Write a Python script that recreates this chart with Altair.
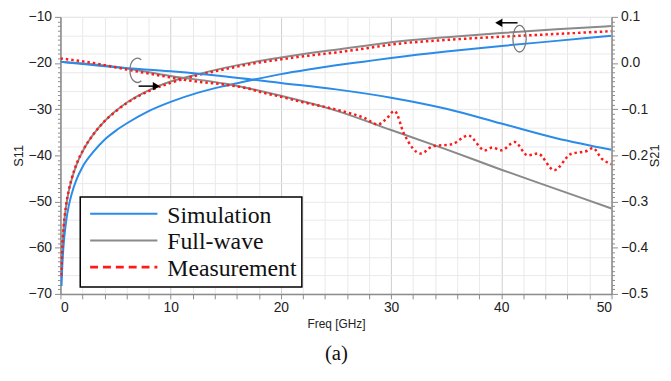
import altair as alt
import pandas as pd

# ---------------- data ----------------
# S11 (left axis, dB)
freq_sim_s11 = [0.1, 0.15, 0.25, 0.5, 0.75, 1, 1.5, 2, 3, 4, 5, 6, 8, 10, 12.5, 15, 17.5, 20, 22.5, 25, 27.5, 30, 35, 40, 45, 50]
sim_s11 = [-68.3, -65.0, -60.6, -54.6, -51.0, -48.5, -45.0, -42.5, -39.2, -36.6, -34.7, -33.1, -30.4, -28.4, -26.4, -24.9, -23.6, -22.4, -21.4, -20.5, -19.7, -18.9, -17.5, -16.3, -15.2, -14.1]

freq_fw_s11 = [0.08, 0.15, 0.3, 0.5, 0.75, 1, 1.5, 2, 3, 4, 5, 6, 8, 10, 12.5, 15, 17.5, 20, 22.5, 25, 27.5, 30, 35, 40, 45, 50]
fw_s11 = [-66.5, -61.5, -55.5, -51.2, -47.8, -45.4, -41.8, -39.2, -35.4, -32.6, -30.4, -28.6, -25.9, -24.0, -22.4, -21.0, -19.8, -18.8, -17.9, -17.1, -16.3, -15.5, -14.4, -13.5, -12.7, -12.0]

freq_meas_s11 = [0.08, 0.15, 0.3, 0.5, 0.75, 1, 1.5, 2, 3, 4, 5, 6, 8, 10, 12.5, 15, 17.5, 20, 22.5, 25, 27.5, 30, 35, 40, 45, 50]
meas_s11 = [-66.0, -61.0, -55.2, -51.0, -47.6, -45.2, -41.6, -39.1, -35.4, -32.6, -30.5, -28.7, -26.1, -24.3, -22.6, -21.3, -20.1, -19.2, -18.4, -17.7, -16.9, -16.0, -15.0, -14.3, -13.7, -13.1]

# S21 (right axis, dB)
freq_sim_s21 = [0, 5, 10, 15, 20, 25, 30, 35, 40, 45, 50]
sim_s21 = [0.003, -0.009, -0.018, -0.029, -0.043, -0.057, -0.075, -0.099, -0.131, -0.163, -0.188]

freq_fw_s21 = [0, 5, 10, 15, 20, 25, 30, 35, 40, 45, 50]
fw_s21 = [0.003, -0.008, -0.028, -0.045, -0.071, -0.103, -0.145, -0.187, -0.231, -0.273, -0.315]

freq_meas_s21 = [0, 3, 6, 9, 12, 15, 17, 18.5, 20, 22, 24, 26, 27.5, 28.8, 29.6, 30.3, 31.2, 32.7, 33.8, 35.5, 37, 38.5, 39.2, 40, 41.2, 42.4, 43.3, 44.8, 46.3, 47.8, 48.3, 49.1, 50]
meas_s21 = [0.010, 0.000, -0.014, -0.027, -0.039, -0.047, -0.055, -0.065, -0.073, -0.085, -0.095, -0.107, -0.118, -0.133, -0.12, -0.104, -0.155, -0.196, -0.180, -0.176, -0.157, -0.189, -0.183, -0.189, -0.171, -0.200, -0.196, -0.232, -0.197, -0.190, -0.184, -0.207, -0.219]

x_ticks = list(range(0, 51, 2))
s11_ticks = list(range(-70, -9, 1))
s21_ticks = [round(-0.5 + 0.01 * i, 2) for i in range(61)]

BLUE = "#2a8ce8"
GRAY = "#8a8a8a"
RED = "#ff1a1a"
AXIS_GRAY = "#8c8c8c"
SANS = "Liberation Sans"
SERIF = "Liberation Serif"


def df(f, v):
    return pd.DataFrame({"freq": f, "val": v})


x_enc = alt.X(
    "freq:Q",
    scale=alt.Scale(domain=[0, 50], nice=False, zero=False),
    axis=alt.Axis(
        values=x_ticks,
        labelExpr="datum.value % 10 === 0 ? datum.label : ''",
        title="Freq [GHz]",
        titleFont=SANS, titleFontSize=12, titleFontWeight="normal", titleColor="#222",
        titlePadding=4,
        labelFont=SANS, labelFontSize=14, labelColor="#222", labelPadding=2,
        tickColor=AXIS_GRAY, tickSize=5, domainColor=AXIS_GRAY, domainWidth=1.5,
        grid=True,
        gridColor={"condition": {"test": "datum.value % 10 === 0", "value": "#cdcdcd"}, "value": "#e9e9e9"},
        gridWidth=1,
    ),
)

s11_axis = alt.Axis(
    orient="left",
    values=s11_ticks,
    labelExpr="datum.value % 10 === 0 ? datum.label : ''",
    title="S11", titleFont=SANS, titleFontSize=13, titleFontWeight="normal", titleColor="#222",
    titlePadding=3,
    labelFont=SANS, labelFontSize=14, labelColor="#222", labelPadding=3,
    tickColor=AXIS_GRAY,
    tickSize={"condition": {"test": "datum.value % 10 === 0", "value": 6}, "value": 3},
    domainColor=AXIS_GRAY, domainWidth=1.5,
    grid=True, gridColor="#e9e9e9",
    gridOpacity={"condition": {"test": "(datum.value + 70) % 4 === 0", "value": 1}, "value": 0},
)

s21_axis = alt.Axis(
    orient="right",
    values=s21_ticks,
    labelExpr="abs(round(datum.value * 10) - datum.value * 10) < 0.001 ? format(datum.value, '.1f') : ''",
    title="S21", titleFont=SANS, titleFontSize=13, titleFontWeight="normal", titleColor="#222",
    titleAngle=270, titleX=43, titleY=140, titleAlign="center", titleBaseline="middle",
    labelFont=SANS, labelFontSize=14, labelColor="#222", labelPadding=3,
    tickColor=AXIS_GRAY,
    tickSize={"condition": {"test": "abs(round(datum.value * 10) - datum.value * 10) < 0.001", "value": 6}, "value": 3},
    domainColor=AXIS_GRAY, domainWidth=1.5,
    grid=False,
)

s11_scale = alt.Scale(domain=[-70, -10], nice=False, zero=False)
s21_scale = alt.Scale(domain=[-0.5, 0.1], nice=False, zero=False)


def line(data, color, scale, axis, dash=None, width=2.0):
    kw = dict(color=color, strokeWidth=width, interpolate="monotone", clip=True)
    if dash:
        kw["strokeDash"] = dash
    return alt.Chart(data).mark_line(**kw).encode(
        x=x_enc,
        y=alt.Y("val:Q", scale=scale, axis=axis),
    )


layers = [
    line(df(freq_fw_s11, fw_s11), GRAY, s11_scale, s11_axis),
    line(df(freq_sim_s11, sim_s11), BLUE, s11_scale, None),
    line(df(freq_meas_s11, meas_s11), RED, s11_scale, None, dash=[2.5, 3], width=2.5),
    line(df(freq_fw_s21, fw_s21), GRAY, s21_scale, s21_axis),
    line(df(freq_sim_s21, sim_s21), BLUE, s21_scale, None),
    line(df(freq_meas_s21, meas_s21), RED, s21_scale, None, dash=[2.5, 3], width=2.5),
]

one = pd.DataFrame({"k": [0]})

# legend box
layers.append(alt.Chart(one).mark_rect(fill="white", stroke="black", strokeWidth=1.5).encode(
    x=alt.value(20), x2=alt.value(244), y=alt.value(182), y2=alt.value(273)))

legend_entries = [("Simulation", BLUE, None, 200), ("Full-wave", GRAY, None, 227), ("Measurement", RED, [8, 5], 254)]
for name, col, dash, yy in legend_entries:
    kw = dict(color=col, strokeWidth=2.2)
    if dash:
        kw["strokeDash"] = dash
        kw["strokeWidth"] = 2.8
    layers.append(alt.Chart(one).mark_rule(**kw).encode(
        x=alt.value(30), x2=alt.value(98), y=alt.value(yy - 1)))
    layers.append(alt.Chart(one).mark_text(text=name, font=SERIF, fontSize=24, align="left",
                                           baseline="middle", color="#111").encode(
        x=alt.value(108), y=alt.value(yy + 1)))

# annotation: left "C" ellipse and right-pointing arrow
c_path = "M0.35,-0.78 C0.1,-1.05 -0.5,-0.9 -0.5,0 C-0.5,0.9 0.1,1.05 0.35,0.78"
ell_path = "M0,-1 C0.276,-1 0.5,-0.552 0.5,0 C0.5,0.552 0.276,1 0,1 C-0.276,1 -0.5,0.552 -0.5,0 C-0.5,-0.552 -0.276,-1 0,-1 Z"
layers.append(alt.Chart(one).mark_point(shape=c_path, size=729, filled=False, stroke="#7a7a7a",
                                        strokeWidth=1.3, opacity=1).encode(
    x=alt.value(77), y=alt.value(54)))
layers.append(alt.Chart(one).mark_rule(color="black", strokeWidth=1.5).encode(
    x=alt.value(79), x2=alt.value(96), y=alt.value(70)))
layers.append(alt.Chart(one).mark_point(shape="triangle-right", filled=True, color="black",
                                        size=70, opacity=1).encode(
    x=alt.value(97), y=alt.value(70)))

# annotation: right ellipse and left-pointing arrow
layers.append(alt.Chart(one).mark_point(shape=ell_path, size=729, filled=False, stroke="#7a7a7a",
                                        strokeWidth=1.3, opacity=1).encode(
    x=alt.value(464), y=alt.value(22)))
layers.append(alt.Chart(one).mark_rule(color="black", strokeWidth=1.5).encode(
    x=alt.value(444), x2=alt.value(462), y=alt.value(6)))
layers.append(alt.Chart(one).mark_point(shape="triangle-left", filled=True, color="black",
                                        size=70, opacity=1).encode(
    x=alt.value(443), y=alt.value(6)))

# caption
layers.append(alt.Chart(one).mark_text(text="(a)", font=SERIF, fontSize=21, color="#111",
                                       align="center", baseline="middle").encode(
    x=alt.value(279), y=alt.value(341)))

chart = alt.layer(*layers).resolve_scale(y="independent").properties(
    width=557, height=280,
    autosize=alt.AutoSizeParams(type="none"),
    padding={"left": 53, "top": 7, "right": 52, "bottom": 80},
).configure_view(stroke=AXIS_GRAY, strokeWidth=1.5).configure(background="white")

chart.save("out.html", embed_options={"renderer": "svg", "actions": False})
